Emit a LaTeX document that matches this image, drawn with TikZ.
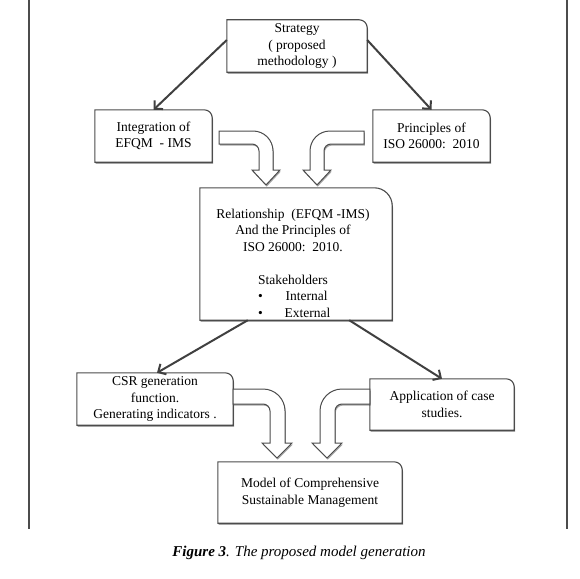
\documentclass[tikz,border=0pt]{standalone}
\usepackage{fontspec}
\setmainfont{Liberation Serif}
\usetikzlibrary{arrows.meta,shadows,calc}
\pgfdeclarelayer{background}
\pgfsetlayers{background,main}
\newcommand\rbox[2]{\draw[boxline] (#1.south west) -- (#1.north west) -- ([xshift=-#2]#1.north east) to[out=0,in=90] ([yshift=-#2]#1.north east) -- (#1.south east) -- cycle;}
\begin{document}
\begin{tikzpicture}[x=1pt,y=1pt,
  boxline/.style={draw=black!70,line width=1.1pt,fill=white,drop shadow={shadow xshift=0.8pt,shadow yshift=-1.6pt,opacity=0.35,fill=black}},
  boxnode/.style={inner sep=0pt,align=center,font=\fontsize{13.5}{16.5}\selectfont},
  conn/.style={draw=black!75,line width=2pt,-{Straight Barb[length=6pt,width=12pt]}},
  hollow/.style={boxline,line width=1pt},
  frame/.style={draw=black!70,line width=1.2pt}]
\useasboundingbox (0,0) rectangle (580,-578);
% frame lines
\coordinate (fl1) at (29,0); \coordinate (fl2) at (29,-529);
\coordinate (fr1) at (567,0); \coordinate (fr2) at (567,-529);
\draw[frame] (fl1) -- (fl2);
\draw[frame] (fr1) -- (fr2);
% nodes
\node[boxnode,minimum width=140pt,minimum height=52pt] (s) at (297,-46) {Strategy\\( proposed\\methodology )};
\node[boxnode,minimum width=117pt,minimum height=52pt] (i) at (153.5,-136) {Integration of\\EFQM\ \ - IMS};
\node[boxnode,minimum width=117pt,minimum height=52pt] (p) at (431.5,-136) {Principles of\\ISO 26000:\ \ 2010};
\node[boxnode,minimum width=192pt,minimum height=132pt] (b) at (296,-254) {};
\node[boxnode] (bt) at (293,-263) {Relationship\ \ (EFQM -IMS)\\And the Principles of\\ISO 26000:\ \ 2010.\\[16.5pt]Stakeholders\\\makebox[70pt][l]{•\hspace{23pt}Internal}\\\makebox[70pt][l]{•\hspace{22pt}External}};
\node[boxnode,minimum width=156pt,minimum height=52pt] (c) at (155,-399) {CSR generation\\function.\\Generating indicators .};
\node[boxnode,minimum width=144pt,minimum height=51pt] (a) at (442,-404.5) {Application of case\\studies.};
\node[boxnode,minimum width=184pt,minimum height=61pt] (m) at (310,-492.5) {Model of Comprehensive\\Sustainable Management};
\node[font=\fontsize{15}{17}\selectfont,inner sep=0pt] (cap) at (299,-553) {\textbf{\textit{Figure 3}}\textit{. The proposed model generation}};
% boxes
\begin{pgfonlayer}{background}
\rbox{s}{8pt}
\rbox{i}{8pt}
\rbox{p}{8pt}
\rbox{b}{18pt}
\rbox{c}{8pt}
\rbox{a}{8pt}
\rbox{m}{8pt}
\end{pgfonlayer}
% connectors
\draw[conn] ([yshift=6pt]s.west) -- (i.north);
\draw[conn] ([yshift=6pt]s.east) -- (p.north);
\draw[conn] ([xshift=48pt]b.south west) -- ([xshift=2pt]c.north);
\draw[conn] ([xshift=-43pt]b.south east) -- (a.north);
% hollow arrows
\draw[hollow] (219,-131) -- (253,-131) to[out=0,in=90] (273,-151) -- (273,-170) -- (280,-170) -- (266,-185) -- (252,-170) -- (259,-170) -- (259,-151) to[out=90,in=0] (252,-144) -- (219,-144) -- cycle;
\draw[hollow] (364,-131) -- (330,-131) to[out=180,in=90] (310,-151) -- (310,-170) -- (303,-170) -- (317,-185) -- (331,-170) -- (324,-170) -- (324,-151) to[out=90,in=180] (331,-144) -- (364,-144) -- cycle;
\draw[hollow] (c.east |- 0,-389) -- (263,-389) to[out=0,in=90] (285,-411) -- (285,-443) -- (292,-443) -- (277,-458) -- (262,-443) -- (270,-443) -- (270,-411) to[out=90,in=0] (263,-404) -- (c.east |- 0,-404) -- cycle;
\draw[hollow] (a.west |- 0,-389) -- (342,-389) to[out=180,in=90] (320,-411) -- (320,-443) -- (312,-443) -- (327,-458) -- (342,-443) -- (335,-443) -- (335,-411) to[out=90,in=180] (342,-404) -- (a.west |- 0,-404) -- cycle;
\end{tikzpicture}
\end{document}
